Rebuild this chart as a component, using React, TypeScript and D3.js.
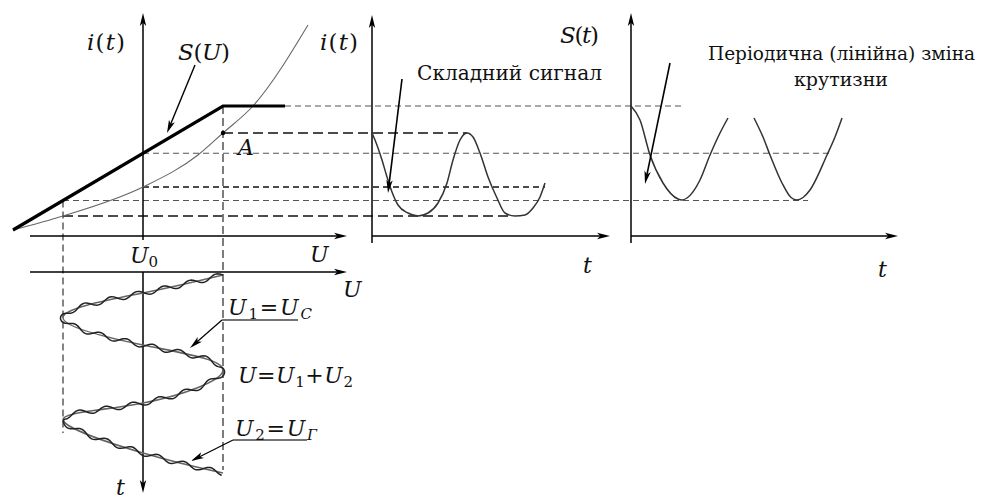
import React, { useEffect, useRef, useState } from "react";
import * as d3 from "d3";

const W = 983;
const H = 500;

// Slope characteristic S(U): linear rise, then saturation
const sCurveU = [0, 21, 27.2];
const sCurveS = [0, 12.4, 12.4];

// Current characteristic i(U)
const iCurveU = [0, 5, 13, 18.5, 21, 24, 29.5];
const iCurveI = [0, 1.4, 4.3, 7.5, 9.7, 12.4, 20.5];

// Operating point and swing of the heterodyne voltage
const U0 = 13;
const UMIN = 5;
const UMAX = 21;

// U1(t), time running downward: turning points and crossings of U0
const spiralT = [0.3, 2.1, 4.5, 7.3, 9.8, 13.1, 14.8, 18.1, 20.1];
const spiralU = [21, 13, 5, 13, 21, 13, 5, 13, 21];
// Weak signal U2 riding on U1
const rippleAmp = 2.6;
const rippleLen = 27;

// Resulting current i(t)
const currentT = [0, 0.3, 1.0, 1.5, 2.0, 2.6, 3.6, 4.6, 5.6, 6.6, 7.5, 8.1, 8.8, 9.5, 10.1, 10.8, 11.6, 12.5, 13.3, 14.3, 15.3, 16.1, 16.8, 17.3];
const currentI = [9.7, 9.0, 7.0, 5.3, 3.8, 2.5, 1.7, 1.4, 1.7, 2.7, 4.7, 7.0, 9.0, 9.7, 9.3, 7.7, 5.3, 3.2, 1.7, 1.4, 1.5, 2.2, 3.3, 4.7];

// Periodic slope S(t), drawn in two pieces
const slopeT1 = [0, 0.9, 1.9, 3.2, 4.7, 5.1, 5.6, 6.9, 7.9, 8.9, 9.7];
const slopeS1 = [12.4, 11.0, 7.5, 4.7, 3.1, 3.0, 3.2, 5.0, 7.5, 9.7, 11.2];
const slopeT2 = [12.3, 13.2, 13.9, 15.1, 16.0, 16.6, 17.2, 17.9, 19.6, 20.4, 21.1];
const slopeS2 = [11.2, 9.3, 7.5, 4.7, 3.25, 3.0, 3.25, 4.0, 7.5, 9.3, 11.2];

const FONT = "'DejaVu Serif', 'Liberation Serif', serif";
const INK = "#111";

const uScale = d3.scaleLinear().domain([0, 10]).range([13, 113]);
const iScale = d3.scaleLinear().domain([0, 10]).range([230, 130]);
const tLow = d3.scaleLinear().domain([0, 10]).range([272, 372]);
const tMid = d3.scaleLinear().domain([0, 10]).range([372, 472]);
const tRight = d3.scaleLinear().domain([0, 10]).range([631, 731]);

const sAt = d3.scaleLinear().domain(sCurveU).range(sCurveS);
const iAt = d3.scaleLinear().domain(iCurveU).range(iCurveI);

function Arrow({ x1, y1, x2, y2, w = 1.5, len = 13, half = 3.2, color = "#000" }: any) {
  const a = Math.atan2(y2 - y1, x2 - x1);
  const bx = x2 - len * Math.cos(a);
  const by = y2 - len * Math.sin(a);
  const nx = -Math.sin(a) * half;
  const ny = Math.cos(a) * half;
  return (
    <g>
      <line x1={x1} y1={y1} x2={bx + len * 0.3 * Math.cos(a)} y2={by + len * 0.3 * Math.sin(a)} stroke={color} strokeWidth={w} />
      <path d={`M${x2},${y2}L${bx + nx},${by + ny}L${bx + len * 0.25 * Math.cos(a)},${by + len * 0.25 * Math.sin(a)}L${bx - nx},${by - ny}Z`} fill={color} />
    </g>
  );
}

export default function App() {
  const u1Ref = useRef<SVGPathElement>(null);
  const [sumPath, setSumPath] = useState("");

  const pts = (xs: number[], ys: number[]) => xs.map((x, k) => [x, ys[k]] as [number, number]);

  const sLine = d3.line<[number, number]>().x((d) => uScale(d[0])).y((d) => iScale(d[1]))(pts(sCurveU, sCurveS)) || "";
  const iLine = d3.line<[number, number]>().x((d) => uScale(d[0])).y((d) => iScale(d[1])).curve(d3.curveMonotoneX)(pts(iCurveU, iCurveI)) || "";
  const u1Line = d3.line<[number, number]>().x((d) => uScale(d[1])).y((d) => tLow(d[0])).curve(d3.curveNatural)(pts(spiralT, spiralU)) || "";
  const curLine = d3.line<[number, number]>().x((d) => tMid(d[0])).y((d) => iScale(d[1])).curve(d3.curveMonotoneX)(pts(currentT, currentI)) || "";
  const slopeGen = d3.line<[number, number]>().x((d) => tRight(d[0])).y((d) => iScale(d[1])).curve(d3.curveMonotoneX);
  const slope1 = slopeGen(pts(slopeT1, slopeS1)) || "";
  const slope2 = slopeGen(pts(slopeT2, slopeS2)) || "";

  // U = U1 + U2: small high-frequency swing laid across U1
  useEffect(() => {
    const el = u1Ref.current;
    if (!el) return;
    const L = el.getTotalLength();
    const out: [number, number][] = [];
    for (let s = 0; s <= L; s += 1) {
      const p = el.getPointAtLength(s);
      const a = el.getPointAtLength(Math.max(0, s - 0.6));
      const b = el.getPointAtLength(Math.min(L, s + 0.6));
      const dx = b.x - a.x;
      const dy = b.y - a.y;
      const n = Math.hypot(dx, dy) || 1;
      const off = rippleAmp * Math.sin((2 * Math.PI * s) / rippleLen);
      out.push([p.x - (dy / n) * off, p.y + (dx / n) * off]);
    }
    setSumPath(d3.line().curve(d3.curveLinear)(out) || "");
  }, [u1Line]);

  const yIMax = iScale(iAt(UMAX));
  const yIU0 = iScale(iAt(U0));
  const yIMin = iScale(iAt(UMIN));
  const ySMax = iScale(sAt(UMAX));
  const ySU0 = iScale(sAt(U0));
  const ySMin = iScale(sAt(UMIN));

  const projI = [
    { y: yIMax, x1: uScale(UMAX), x2: tMid(9.5), dash: "10,5" },
    { y: yIU0, x1: uScale(U0), x2: tMid(17.3), dash: "6,4" },
    { y: yIMin, x1: uScale(UMIN), x2: tMid(14.0), dash: "10,5" },
  ];
  const projS = [
    { y: ySMax, x1: uScale(sCurveU[2]), x2: tRight(5.4) },
    { y: ySU0, x1: uScale(U0), x2: tRight(19.9) },
    { y: ySMin, x1: uScale(UMIN), x2: tRight(17.7) },
  ];

  const axisY = iScale(-0.6);
  const xU0 = uScale(U0);

  const fn = (x: number, y: number, a: string, b: string, len?: number) => (
    <text x={x} y={y} fontSize={23} fill={INK} textLength={len} lengthAdjust="spacing">
      <tspan fontStyle="italic">{a}</tspan>
      <tspan>(</tspan>
      <tspan fontStyle="italic">{b}</tspan>
      <tspan>)</tspan>
    </text>
  );

  return (
    <svg width={W} height={H} viewBox={`0 0 ${W} ${H}`} style={{ position: "absolute", left: 0, top: 0, background: "#fff", fontFamily: FONT }}>
      <rect width={W} height={H} fill="#fff" />

      {/* projection lines */}
      {projS.map((p, k) => (
        <line key={"s" + k} x1={p.x1} x2={p.x2} y1={p.y} y2={p.y} stroke="#555" strokeWidth={1.2} strokeDasharray="6,4" />
      ))}
      {projI.map((p, k) => (
        <line key={"i" + k} x1={p.x1} x2={p.x2} y1={p.y} y2={p.y} stroke="#111" strokeWidth={1.3} strokeDasharray={p.dash} />
      ))}
      <line x1={uScale(UMIN)} x2={uScale(UMIN)} y1={ySMin} y2={tLow(16.1)} stroke="#222" strokeWidth={1.1} strokeDasharray="7,4" />
      <line x1={uScale(UMAX)} x2={uScale(UMAX)} y1={ySMax} y2={tLow(19.8)} stroke="#777" strokeWidth={1.9} strokeDasharray="8,4" />

      {/* left axes */}
      <Arrow x1={xU0} y1={iScale(-1.0)} x2={xU0} y2={iScale(21.7)} />
      <Arrow x1={uScale(1.7)} y1={axisY} x2={uScale(33.4)} y2={axisY} />
      <Arrow x1={uScale(1.7)} y1={tLow(0)} x2={uScale(33.4)} y2={tLow(0)} />
      <Arrow x1={xU0} y1={tLow(0)} x2={xU0} y2={tLow(22.1)} />

      {/* characteristics */}
      <path d={iLine} fill="none" stroke="#666" strokeWidth={1.1} />
      <path d={sLine} fill="none" stroke="#000" strokeWidth={3.2} />
      <circle cx={uScale(UMAX)} cy={yIMax} r={2.2} fill="#000" />

      {/* input voltage */}
      <path ref={u1Ref} d={u1Line} fill="none" stroke="#666" strokeWidth={1.6} />
      <path d={sumPath} fill="none" stroke="#222" strokeWidth={1.5} />

      {/* middle axes and current */}
      <Arrow x1={tMid(0)} y1={iScale(-1.3)} x2={tMid(0)} y2={iScale(21.5)} />
      <Arrow x1={tMid(0)} y1={axisY} x2={tMid(23.8)} y2={axisY} />
      <path d={curLine} fill="none" stroke="#333" strokeWidth={1.5} />

      {/* right axes and slope */}
      <Arrow x1={tRight(0)} y1={iScale(-1.3)} x2={tRight(0)} y2={iScale(21.7)} />
      <Arrow x1={tRight(0)} y1={axisY} x2={tRight(26.7)} y2={axisY} />
      <path d={slope1} fill="none" stroke="#333" strokeWidth={1.5} />
      <path d={slope2} fill="none" stroke="#333" strokeWidth={1.5} />

      {/* pointers */}
      <Arrow x1={195} y1={65} x2={167} y2={133} w={1.4} />
      <Arrow x1={402} y1={79} x2={388} y2={193} w={1.6} />
      <Arrow x1={670} y1={63} x2={645} y2={184} w={1.6} />
      <Arrow x1={222} y1={320} x2={190} y2={348} w={1.2} />
      <Arrow x1={233} y1={440} x2={191} y2={461} w={1.2} />
      <line x1={222} x2={298} y1={320} y2={320} stroke="#444" strokeWidth={1.3} />
      <line x1={233} x2={307} y1={440} y2={440} stroke="#444" strokeWidth={1.3} />

      {/* labels */}
      {fn(87, 50, "i", "t", 38)}
      {fn(178, 60, "S", "U", 52)}
      {fn(320, 50, "i", "t", 38)}
      {fn(560, 43, "S", "t", 39)}

      <g fontSize={22} fill={INK} fontStyle="italic">
        <text x={130} y={263}>U<tspan fontStyle="normal" fontSize={15} dy={4}>0</tspan></text>
        <text x={310} y={262}>U</text>
        <text x={343} y={297}>U</text>
        <text x={238} y={155}>A</text>
        <text x={583} y={273}>t</text>
        <text x={878} y={277}>t</text>
        <text x={116} y={495}>t</text>
        <text x={228} y={315} textLength={84} lengthAdjust="spacing">
          U<tspan fontStyle="normal" fontSize={15} dy={4}>1</tspan>
          <tspan fontStyle="normal" dy={-4}>=</tspan>
          <tspan>U</tspan>
          <tspan fontSize={15} dy={4}>С</tspan>
        </text>
        <text x={238} y={383} textLength={115} lengthAdjust="spacing">
          U<tspan fontStyle="normal">=</tspan>
          <tspan>U</tspan>
          <tspan fontStyle="normal" fontSize={15} dy={4}>1</tspan>
          <tspan fontStyle="normal" dy={-4}>+</tspan>
          <tspan>U</tspan>
          <tspan fontStyle="normal" fontSize={15} dy={4}>2</tspan>
        </text>
        <text x={235} y={436} textLength={82} lengthAdjust="spacing">
          U<tspan fontStyle="normal" fontSize={15} dy={4}>2</tspan>
          <tspan fontStyle="normal" dy={-4}>=</tspan>
          <tspan>U</tspan>
          <tspan fontSize={15} dy={4}>Г</tspan>
        </text>
      </g>

      <g fill={INK}>
        <text x={417} y={80} fontSize={21} textLength={185} lengthAdjust="spacingAndGlyphs">Складний сигнал</text>
        <text x={708} y={60} fontSize={19} textLength={267} lengthAdjust="spacingAndGlyphs">Періодична (лінійна) зміна</text>
        <text x={841} y={86} fontSize={19} textAnchor="middle">крутизни</text>
      </g>
    </svg>
  );
}
